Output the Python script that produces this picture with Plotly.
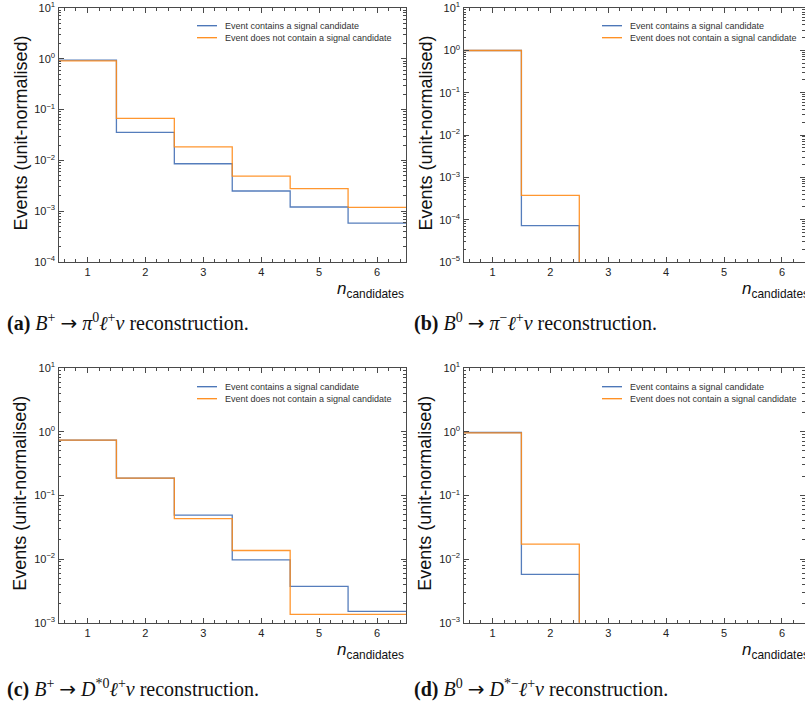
import plotly.graph_objects as go

# ---------------- data ----------------
n_candidates = [1, 2, 3, 4, 5, 6]
series_names = ["Event contains a signal candidate",
                "Event does not contain a signal candidate"]

# (a) B+ -> pi0 l nu
a_signal = [0.94, 0.0356, 0.0086, 0.0025, 0.00121, 0.00058]
a_nosig = [0.91, 0.0673, 0.0184, 0.0049, 0.00278, 0.00119]
# (b) B0 -> pi- l nu
b_signal = [0.99, 0.000072, 0, 0, 0, 0]
b_nosig = [0.99, 0.000376, 0, 0, 0, 0]
# (c) B+ -> D*0 l nu
c_signal = [0.738, 0.186, 0.0488, 0.0097, 0.00373, 0.00151]
c_nosig = [0.738, 0.186, 0.0432, 0.0136, 0.00135, 0.00135]
# (d) B0 -> D*- l nu
d_signal = [0.97, 0.00575, 0, 0, 0, 0]
d_nosig = [0.96, 0.0171, 0, 0, 0, 0]

ARROW = '<span style="font-family:DejaVu Sans">→</span>'
captions = [
    "<b>(a)</b> <i>B</i><sup>+</sup> " + ARROW + " <i>π</i><sup>0</sup><i>ℓ</i><sup>+</sup><i>ν</i> reconstruction.",
    "<b>(b)</b> <i>B</i><sup>0</sup> " + ARROW + " <i>π</i><sup>−</sup><i>ℓ</i><sup>+</sup><i>ν</i> reconstruction.",
    "<b>(c)</b> <i>B</i><sup>+</sup> " + ARROW + " <i>D</i><sup>*0</sup><i>ℓ</i><sup>+</sup><i>ν</i> reconstruction.",
    "<b>(d)</b> <i>B</i><sup>0</sup> " + ARROW + " <i>D</i><sup>*−</sup><i>ℓ</i><sup>+</sup><i>ν</i> reconstruction.",
]

# ---------------- style ----------------
W, H = 805, 704
BLUE = "#4470b5"
ORANGE = "#ff8c1a"
AXIS = "#4a4a4a"
SANS = "Liberation Sans, Arial, sans-serif"
SERIF = "Liberation Serif, Times New Roman, serif"

panels = [
    dict(sig=a_signal, bkg=a_nosig, x0=58.5, x1=406.0, y0=8.0, y1=262.0, ylog=(-4, 1), xend=6.5, cap=captions[0], capx=5, capy=323),
    dict(sig=b_signal, bkg=b_nosig, x0=463.5, x1=805.0, y0=8.0, y1=262.0, ylog=(-5, 1), xend=0.5 + (805 - 463.5) / 57.9, cap=captions[1], capx=412, capy=323),
    dict(sig=c_signal, bkg=c_nosig, x0=58.5, x1=406.0, y0=368.0, y1=622.7, ylog=(-3, 1), xend=6.5, cap=captions[2], capx=5, capy=688),
    dict(sig=d_signal, bkg=d_nosig, x0=463.5, x1=805.0, y0=368.0, y1=622.7, ylog=(-3, 1), xend=0.5 + (805 - 463.5) / 57.9, cap=captions[3], capx=412, capy=688),
]


def px_x(v):
    return v / W


def px_y(v):
    return 1 - v / H


edges = [c - 0.5 for c in n_candidates] + [n_candidates[-1] + 0.5]

fig = go.Figure()
annotations = []
shapes = []

for i, p in enumerate(panels):
    k = "" if i == 0 else str(i + 1)
    xa, ya = "x" + k, "y" + k
    floor = 10 ** (p["ylog"][0] - 3)
    for vals, col, name in [(p["sig"], BLUE, series_names[0]), (p["bkg"], ORANGE, series_names[1])]:
        yv = [v if v > 0 else floor for v in vals]
        fig.add_trace(go.Scatter(
            x=edges, y=yv + [yv[-1]], mode="lines", line=dict(color=col, width=1.3, shape="hv"),
            name=name, showlegend=False, xaxis=xa, yaxis=ya, opacity=0.9))

    lo, hi = p["ylog"]
    major = [10.0 ** e for e in range(lo, hi + 1)]
    majtext = ["10<sup>" + str(e).replace("-", "−") + "</sup>" for e in range(lo, hi + 1)]
    minor = [m * 10.0 ** e for e in range(lo, hi) for m in range(2, 10)]

    fig.layout["xaxis" + k] = dict(
        domain=[px_x(p["x0"]), px_x(p["x1"])], range=[0.5, p["xend"]], anchor=ya, automargin=False,
        tickvals=n_candidates, ticks="inside", ticklen=5, tickwidth=1, tickcolor=AXIS,
        minor=dict(dtick=0.2, tick0=0, ticks="inside", ticklen=2.5, tickcolor=AXIS, showgrid=False),
        showline=True, linecolor=AXIS, linewidth=1.3, mirror="allticks", showgrid=False, zeroline=False,
        tickfont=dict(family=SANS, size=11, color="#222"),
    )
    fig.layout["yaxis" + k] = dict(
        type="log", domain=[px_y(p["y1"]), px_y(p["y0"])], range=[lo, hi], anchor=xa, automargin=False,
        tickvals=major, ticktext=majtext, ticks="inside", ticklen=5, tickwidth=1, tickcolor=AXIS,
        minor=dict(tickvals=minor, ticks="inside", ticklen=2.5, tickcolor=AXIS, showgrid=False),
        showline=True, linecolor=AXIS, linewidth=1.3, mirror="allticks", showgrid=False, zeroline=False,
        tickfont=dict(family=SANS, size=11, color="#222"),
    )

    # y title
    annotations.append(dict(
        text="Events (unit-normalised)", textangle=-90, xref="paper", yref="paper",
        x=px_x(p["x0"] - 38), y=px_y((p["y0"] + p["y1"]) / 2 - 2), xanchor="center", yanchor="middle",
        showarrow=False, font=dict(family=SANS, size=18, color="#111")))
    # x title
    right_true = p["x0"] + (6.5 - 0.5) * 57.9
    annotations.append(dict(
        text="<i>n</i><sub>candidates</sub>", xref="paper", yref="paper",
        x=px_x(right_true), y=px_y(p["y1"] + 28), xanchor="right", yanchor="middle",
        showarrow=False, font=dict(family=SANS, size=17, color="#111")))
    # legend (drawn manually for compact spacing)
    lx0 = p["x0"] + 138.5
    ly = p["y0"] + (17.7 if i < 2 else 18.7)
    for j, (col, name) in enumerate([(BLUE, series_names[0]), (ORANGE, series_names[1])]):
        yy = ly + j * 12
        shapes.append(dict(type="line", xref="paper", yref="paper",
                           x0=px_x(lx0), x1=px_x(lx0 + 20), y0=px_y(yy), y1=px_y(yy),
                           line=dict(color=col, width=1.3)))
        annotations.append(dict(
            text=name, xref="paper", yref="paper", x=px_x(lx0 + 26), y=px_y(yy),
            xanchor="left", yanchor="middle", showarrow=False,
            font=dict(family=SANS, size=9, color="#333")))
    # caption
    annotations.append(dict(
        text=p["cap"], xref="paper", yref="paper", x=px_x(p["capx"]), y=px_y(p["capy"]),
        xanchor="left", yanchor="middle", showarrow=False,
        font=dict(family=SERIF, size=20, color="#111")))

fig.update_layout(
    width=W, height=H, margin=dict(l=0, r=0, t=0, b=0),
    paper_bgcolor="white", plot_bgcolor="white", showlegend=False,
    annotations=annotations, shapes=shapes,
)

fig.write_html("out.html")
